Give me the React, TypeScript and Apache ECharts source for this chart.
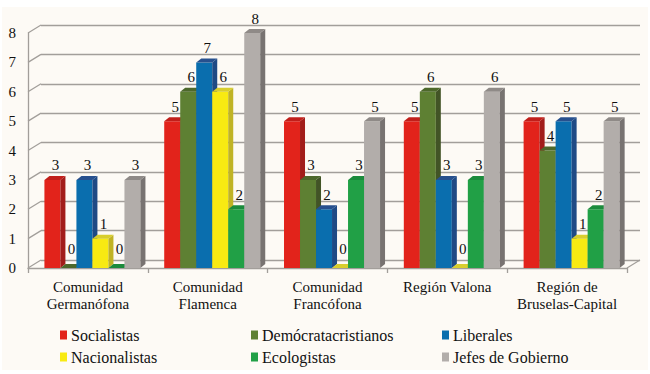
import React, { useEffect, useRef } from "react";
import * as echarts from "echarts";

const categories = [
  "Comunidad\nGermanófona",
  "Comunidad\nFlamenca",
  "Comunidad\nFrancófona",
  "Región Valona",
  "Región de\nBruselas-Capital",
];
const seriesNames = [
  "Socialistas",
  "Demócratacristianos",
  "Liberales",
  "Nacionalistas",
  "Ecologistas",
  "Jefes de Gobierno",
];
const socialistas = [3, 5, 5, 5, 5];
const democratacristianos = [0, 6, 3, 6, 4];
const liberales = [3, 7, 2, 3, 5];
const nacionalistas = [1, 6, 0, 0, 1];
const ecologistas = [0, 2, 3, 3, 2];
const jefesDeGobierno = [3, 8, 5, 6, 5];
const yTicks = [0, 1, 2, 3, 4, 5, 6, 7, 8];

const allValues = [socialistas, democratacristianos, liberales, nacionalistas, ecologistas, jefesDeGobierno];

const frontColors = ["#E2231B", "#5E8033", "#0A6EAE", "#F8EA12", "#21A046", "#B2ADAA"];
const sideColors = ["#A21D1A", "#425426", "#1F4A85", "#C0B325", "#177A36", "#787371"];
const topColors = ["#C11F1A", "#4D682B", "#27508E", "#D8CE2D", "#1B8B3C", "#8F8A87"];

const GRID_GRAY = "#A29E9A";
const FONT = "Liberation Serif, DejaVu Serif, serif";

export default function App() {
  const ref = useRef<HTMLDivElement>(null);

  useEffect(() => {
    if (!ref.current) return;
    const chart = echarts.init(ref.current, undefined, { renderer: "svg" });

    const txt = (size: number, extra: any = {}) => ({
      fontSize: size,
      fontFamily: FONT,
      color: "#111",
      ...extra,
    });

    const barSeries = allValues.map((vals, si) => ({
      type: "custom",
      name: seriesNames[si],
      xAxisIndex: 0,
      yAxisIndex: 0,
      itemStyle: { color: frontColors[si] },
      data: vals.map((v, ci) => [ci, v]),
      z: 5,
      renderItem: (params: any, api: any) => {
        const ci = api.value(0);
        const v = api.value(1);
        const base = api.coord([ci, 0]);
        const top = api.coord([ci, v]);
        const band = api.size([1, 0])[0];
        const bw = band * 0.1336;
        const x0 = base[0] - band / 2 + band * 0.137 + si * bw;
        const x1 = x0 + bw;
        const yb = base[1];
        const yt = top[1];
        const dx = 5;
        const dy = -4;
        const children: any[] = [];
        if (v > 0) {
          children.push({
            type: "rect",
            shape: { x: x0, y: yt, width: bw, height: yb - yt },
            style: { fill: frontColors[si] },
          });
          children.push({
            type: "polygon",
            shape: { points: [[x1, yt], [x1 + dx, yt + dy], [x1 + dx, yb + dy], [x1, yb]] },
            style: { fill: sideColors[si] },
          });
        }
        children.push({
          type: "polygon",
          shape: { points: [[x0, yt], [x0 + dx, yt + dy], [x1 + dx, yt + dy], [x1, yt]] },
          style: { fill: topColors[si] },
        });
        children.push({
          type: "text",
          z2: 10,
          style: {
            text: String(v),
            x: (x0 + x1) / 2 + 3,
            y: yt - (v === 0 ? 19 : 14.5),
            align: "center",
            verticalAlign: "middle",
            font: "15px " + FONT,
            fontSize: 15,
            fontFamily: FONT,
            fill: "#111",
          },
        });
        return { type: "group", children };
      },
    }));

    const option: any = {
      animation: false,
      backgroundColor: "#ffffff",
      textStyle: { fontFamily: FONT },
      graphic: [
        {
          type: "rect",
          z: -10,
          shape: { x: 2, y: 7, width: 646, height: 363 },
          style: { fill: "#FDFAF5" },
        },
      ],
      legend: [
        { data: [seriesNames[0], seriesNames[3]], left: 60, top: 327 },
        { data: [seriesNames[1], seriesNames[4]], left: 251, top: 327 },
        { data: [seriesNames[2], seriesNames[5]], left: 442, top: 327 },
      ].map((l) => ({
        ...l,
        orient: "vertical",
        icon: "rect",
        itemWidth: 7,
        itemHeight: 9,
        itemGap: 6,
        padding: 0,
        selectedMode: false,
        textStyle: txt(16, { lineHeight: 16, padding: [0, 0, 0, -1] }),
      })),
      grid: [
        { left: 28, right: 23, top: 33, bottom: 106 },
        { left: 41, right: 10, top: 25, bottom: 114 },
      ],
      xAxis: [
        {
          type: "category",
          gridIndex: 0,
          data: categories,
          axisLine: { show: true, lineStyle: { color: GRID_GRAY, width: 1.3 } },
          axisTick: { show: true, length: 5, lineStyle: { color: GRID_GRAY, width: 1.3 } },
          axisLabel: { interval: 0, margin: 10, lineHeight: 17.5, ...txt(15) },
          splitLine: { show: false },
        },
        { type: "value", gridIndex: 1, show: false, min: 0, max: 1 },
      ],
      yAxis: [
        {
          type: "value",
          gridIndex: 0,
          min: 0,
          max: 8,
          interval: 1,
          axisLine: { show: true, lineStyle: { color: GRID_GRAY, width: 1.3 } },
          axisTick: { show: false },
          splitLine: { show: false },
          axisLabel: { margin: 12, ...txt(15) },
        },
        {
          type: "value",
          gridIndex: 1,
          min: 0,
          max: 8,
          interval: 1,
          axisLine: { show: false },
          axisTick: { show: false },
          axisLabel: { show: false },
          splitLine: { show: true, lineStyle: { color: GRID_GRAY, width: 1.3 } },
        },
      ],
      series: [
        {
          type: "custom",
          name: "wallTicks",
          xAxisIndex: 0,
          yAxisIndex: 0,
          z: 1,
          silent: true,
          data: yTicks.map((v) => [0, v]),
          renderItem: (params: any, api: any) => {
            const v = api.value(1);
            const p = api.coord([0, v]);
            const band = api.size([1, 0])[0];
            const x = p[0] - band / 2;
            const children: any[] = [
              {
                type: "line",
                shape: { x1: x, y1: p[1], x2: x + 13, y2: p[1] - 8 },
                style: { stroke: GRID_GRAY, lineWidth: 1.3 },
              },
            ];
            if (v === 0) {
              const q = api.coord([categories.length - 1, 0]);
              const xr = q[0] + band / 2;
              children.push({
                type: "line",
                shape: { x1: xr, y1: q[1], x2: xr + 13, y2: q[1] - 8 },
                style: { stroke: GRID_GRAY, lineWidth: 1.3 },
              });
            }
            return { type: "group", children };
          },
        },
        ...barSeries,
      ],
    };

    chart.setOption(option);
    return () => chart.dispose();
  }, []);

  return (
    <div
      ref={ref}
      style={{ position: "absolute", left: 0, top: 0, width: 650, height: 374 }}
    />
  );
}
